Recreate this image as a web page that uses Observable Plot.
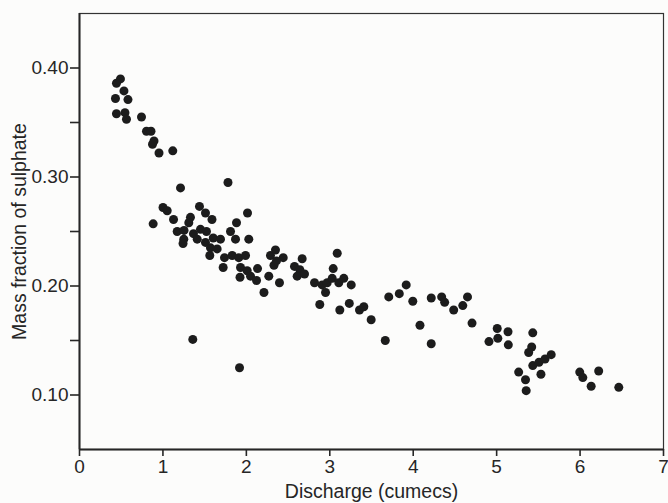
<!DOCTYPE html>
<html>
<head>
<meta charset="utf-8">
<script src="https://cdn.jsdelivr.net/npm/d3@7"></script>
<script src="https://cdn.jsdelivr.net/npm/@observablehq/plot@0.6"></script>
<style>
  html, body { margin: 0; padding: 0; background: #fcfcfb; }
  #chart svg { display: block; }
</style>
</head>
<body>
<div id="chart"></div>
<script>
// Discharge (cumecs)
const discharge = [
  0.491, 0.443, 0.533, 0.431, 0.581, 0.443, 0.545, 0.563, 0.743, 0.803,
  0.857, 0.893, 0.875, 0.953, 1.118, 1.211, 1.780, 1.001, 1.051, 0.883,
  1.127, 1.438, 1.510, 1.588, 1.330, 1.310, 2.014, 1.882, 1.171, 1.253,
  1.250, 1.241, 1.366, 1.450, 1.522, 1.411, 1.510, 1.603, 1.690, 1.810,
  1.870, 2.029, 1.570, 1.650, 1.562, 1.738, 1.830, 1.909, 1.990, 1.722,
  1.930, 2.010, 2.134, 1.924, 2.050, 2.122, 2.269, 2.289, 2.349, 2.331,
  2.211, 2.397, 2.442, 2.361, 2.669, 2.577, 2.641, 2.609, 2.697, 3.089,
  3.041, 2.817, 2.909, 2.949, 2.969, 3.029, 3.108, 3.168, 3.257, 2.880,
  3.120, 3.234, 3.356, 3.408, 3.496, 3.665, 3.707, 3.833, 3.916, 3.995,
  4.081, 4.216, 4.216, 4.341, 4.377, 4.485, 4.594, 4.651, 4.705, 4.908,
  5.007, 5.014, 5.136, 5.140, 5.264, 5.346, 5.354, 5.433, 5.420, 5.384,
  5.433, 5.508, 5.580, 5.654, 5.531, 5.996, 6.033, 6.133, 6.223, 6.464,
  1.358, 1.918
];
// Mass fraction of sulphate
const sulphate = [
  0.390, 0.386, 0.379, 0.372, 0.371, 0.358, 0.359, 0.353, 0.355, 0.342,
  0.342, 0.333, 0.330, 0.322, 0.324, 0.290, 0.295, 0.272, 0.269, 0.257,
  0.261, 0.273, 0.267, 0.261, 0.263, 0.258, 0.267, 0.258, 0.250, 0.251,
  0.243, 0.239, 0.248, 0.252, 0.250, 0.243, 0.240, 0.244, 0.243, 0.250,
  0.243, 0.243, 0.235, 0.234, 0.228, 0.226, 0.228, 0.226, 0.228, 0.217,
  0.217, 0.214, 0.216, 0.208, 0.209, 0.205, 0.209, 0.228, 0.233, 0.219,
  0.194, 0.203, 0.226, 0.223, 0.225, 0.218, 0.215, 0.209, 0.211, 0.230,
  0.216, 0.203, 0.201, 0.194, 0.203, 0.207, 0.203, 0.207, 0.201, 0.183,
  0.178, 0.184, 0.178, 0.181, 0.169, 0.150, 0.190, 0.193, 0.201, 0.186,
  0.164, 0.189, 0.147, 0.190, 0.185, 0.178, 0.182, 0.190, 0.166, 0.149,
  0.161, 0.152, 0.158, 0.146, 0.121, 0.114, 0.104, 0.157, 0.144, 0.139,
  0.127, 0.130, 0.133, 0.137, 0.119, 0.121, 0.116, 0.108, 0.122, 0.107,
  0.151, 0.125
];
const xTicks = [0, 1, 2, 3, 4, 5, 6, 7];
const yTicks = [0.10, 0.15, 0.20, 0.25, 0.30, 0.35, 0.40];
const yLabelled = [0.10, 0.20, 0.30, 0.40];

const points = discharge.map((d, i) => ({discharge: d, sulphate: sulphate[i]}));
const ink = "#262626";

const chart = Plot.plot({
  width: 668,
  height: 503,
  marginLeft: 79,
  marginRight: 5,
  marginTop: 13,
  marginBottom: 54,
  style: {background: "#fcfcfb", color: ink, fontFamily: "'Liberation Sans', Arial, sans-serif", fontSize: "19px"},
  x: {domain: [0, 7]},
  y: {domain: [0.05, 0.45]},
  marks: [
    Plot.frame({stroke: "#333", strokeWidth: 1.2}),
    Plot.ruleX([0], {stroke: ink, strokeWidth: 2}),
    Plot.ruleY([0.05], {stroke: ink, strokeWidth: 2}),
    Plot.axisX({
      ticks: xTicks, tickSize: 7, tickPadding: 3, tickFormat: d => String(d),
      strokeWidth: 1.6, fontSize: 19,
      label: null
    }),
    Plot.axisX({
      ticks: [], tickSize: 0,
      fontSize: 19.5,
      label: "Discharge (cumecs)", labelArrow: "none", labelAnchor: "center", labelOffset: 48
    }),
    Plot.axisY({
      ticks: yTicks, tickSize: 9, tickPadding: 2,
      tickFormat: d => yLabelled.some(v => Math.abs(v - d) < 1e-9) ? d.toFixed(2) : "",
      strokeWidth: 1.6, fontSize: 19,
      label: null
    }),
    Plot.axisY({
      ticks: [], tickSize: 0,
      fontSize: 19.5,
      label: "Mass fraction of sulphate", labelArrow: "none", labelAnchor: "center", labelOffset: 67
    }),
    Plot.dot(points, {x: "discharge", y: "sulphate", r: 4.5, fill: "#1c1c1c", stroke: "none"})
  ]
});
document.getElementById("chart").appendChild(chart);
</script>
</body>
</html>
